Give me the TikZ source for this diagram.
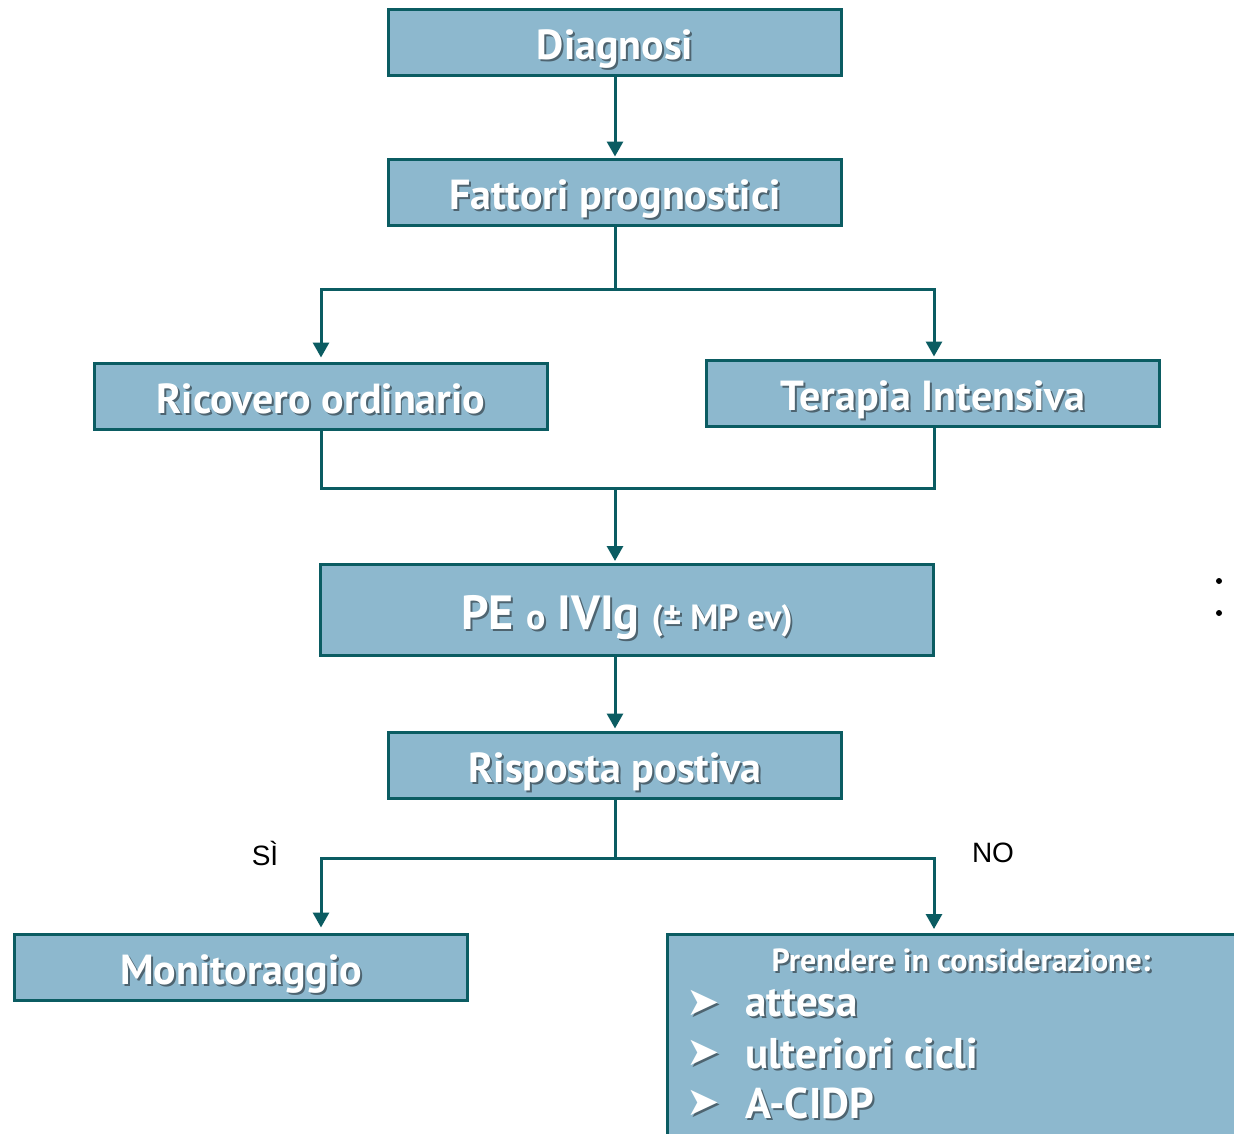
\documentclass[tikz,border=0pt]{standalone}
\usepackage{fontspec}
\setmainfont{PT Sans}
\newfontfamily\lsans{Liberation Sans}
\newfontfamily\djsans{DejaVu Sans}
\usetikzlibrary{arrows.meta}
\definecolor{boxfill}{HTML}{8DB8CE}
\definecolor{boxline}{HTML}{0B5C62}
\definecolor{shad}{HTML}{4E6470}
\newcommand\sht[1]{\leavevmode\rlap{\kern2pt\raisebox{-2pt}{\color{shad}#1}}#1}
\tikzset{
  x=1pt,y=-1pt,
  box/.style={draw=boxline,line width=3pt,fill=boxfill,text=white,inner sep=0pt,
    font=\bfseries\fontsize{42}{46}\selectfont,text height=40pt,text depth=6pt},
  wide/.style={box,minimum width=453pt,minimum height=66pt},
  conn/.style={draw=boxline,line width=3pt},
  arr/.style={conn,-{Triangle[width=16pt,length=15pt]}},
  lbl/.style={font=\lsans\fontsize{28}{30}\selectfont,text=black,inner sep=0pt},
  intext/.style={text=white,inner sep=0pt},
}
\begin{document}
\begin{tikzpicture}
\useasboundingbox[fill=white] (0,0) rectangle (1234,1133);
\node[wide] (diag) at (615,42) {\sht{Diagnosi}};
\node[wide] (fatt) at (615,192) {\sht{Fattori prognostici}};
\node[wide] (ric) at (321,396) {\sht{Ricovero ordinario}};
\node[wide] (ter) at (933,393) {\sht{Terapia Intensiva}};
\node[box,minimum width=613pt,minimum height=91pt,font=\bfseries\fontsize{48}{52}\selectfont,text height=44pt,text depth=6pt] (pe) at (627,610)
  {\sht{PE {\fontsize{36}{38}\selectfont o} IVIg {\fontsize{35}{38}\selectfont (± MP ev)}}};
\node[wide] (risp) at (615,765) {\sht{Risposta postiva}};
\node[wide] (mon) at (241,967) {\sht{Monitoraggio}};
\node[box,anchor=north west,minimum width=585pt,minimum height=215pt,text height=,text depth=] (pr) at (666,933) {};
\node[intext,font=\bfseries\fontsize{32}{34}\selectfont] (prt) at (961,961) {\sht{Prendere in considerazione:}};
\foreach \y/\t [count=\i] in {1004/attesa,1054/ulteriori cicli,1104/A-CIDP}{
  \node[intext,font=\djsans\fontsize{40}{42}\selectfont] (b\i) at (703,\y) {\sht{➤}};
  \node[intext,anchor=west,font=\bfseries\fontsize{43}{45}\selectfont] (t\i) at (745,\y) {\sht{\t}};
}
% connectors
\draw[arr] (diag.south) -- ([yshift=1pt]fatt.north);
\coordinate (j1) at (615,289);
\draw[conn] (fatt.south) -- (j1);
\draw[arr] (j1) -| ([yshift=4pt]ric.north);
\draw[arr] (j1) -| ([xshift=1pt,yshift=2pt]ter.north);
\coordinate (j2) at (615,488);
\draw[conn] (ric.south) |- (j2);
\draw[conn] ([xshift=1pt]ter.south) |- (j2);
\draw[arr] (j2) -- ([xshift=-12pt,yshift=2pt]pe.north);
\draw[arr] ([xshift=-12pt]pe.south) -- ([yshift=2pt]risp.north);
\coordinate (j3) at (615,858);
\draw[conn] (risp.south) -- (j3);
\draw[arr] (j3) -| ([xshift=80pt,yshift=5pt]mon.north);
\draw[arr] (j3) -| ([xshift=268pt,yshift=4pt]pr.north west);
\node[lbl] (si) at (265,853) {SÌ};
\node[lbl] (no) at (993,853) {NO};
\fill (1219,581) circle (3);
\fill (1219,613) circle (3);
\end{tikzpicture}
\end{document}
